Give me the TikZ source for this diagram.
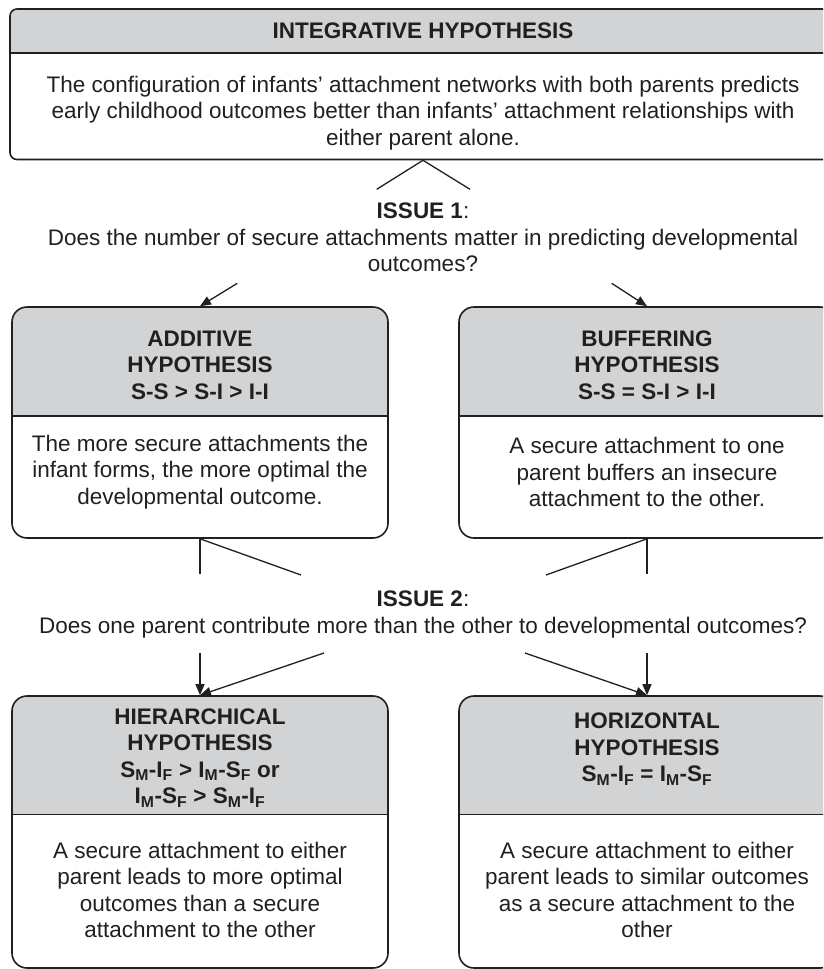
\documentclass[tikz,border=0pt]{standalone}
\usepackage{fontspec}
\setmainfont{Liberation Sans}
\usetikzlibrary{arrows.meta}
\definecolor{inkblack}{HTML}{231F20}
\definecolor{headgray}{HTML}{D1D3D4}
\newcommand{\diagfont}{\fontsize{22.5}{26.5}\selectfont}
\tikzset{
  hypbox/.style 2 args={draw=inkblack, line width=1.6pt, rounded corners=15pt, inner sep=0pt,
    minimum width=376pt, minimum height=#1,
    path picture={
      \fill[headgray, sharp corners] (path picture bounding box.north west) rectangle ([yshift=-#2]path picture bounding box.north east);
      \draw[inkblack, line width=1.6pt, sharp corners] ([yshift=-#2]path picture bounding box.north west) -- ([yshift=-#2]path picture bounding box.north east);
    }},
  headtxt/.style={font=\diagfont\bfseries, align=center, text=inkblack},
  bodytxt/.style={font=\diagfont, align=center, text=inkblack},
  link/.style={draw=inkblack, line width=1.3pt},
  arr/.style={link, -{Triangle[length=11pt, width=9pt]}}
}
\begin{document}
\begin{tikzpicture}[x=1pt, y=-1pt]
\useasboundingbox (0,0) rectangle (823,969);
\clip (0,0) rectangle (823,969);
% boxes
\node[hypbox={150.5pt}{44pt}, minimum width=826pt, rounded corners=7pt] (integ) at (423,84.25) {};
\node[hypbox={231pt}{109pt}] (add) at (200,422.5) {};
\node[hypbox={231pt}{109pt}] (buf) at (647,422.5) {};
\node[hypbox={272pt}{118.5pt}] (hier) at (200,832) {};
\node[hypbox={272pt}{118.5pt}] (horiz) at (647,832) {};
% box texts
\node[headtxt] (integH) at (423,31) {INTEGRATIVE HYPOTHESIS};
\node[bodytxt] (integT) at (423,113) {The configuration of infants’ attachment networks with both parents predicts\\early childhood outcomes better than infants’ attachment relationships with\\either parent alone.};
\node[headtxt] (addH) at (200,365) {ADDITIVE\\HYPOTHESIS\\S-S > S-I > I-I};
\node[bodytxt] (addT) at (200,472) {The more secure attachments the\\infant forms, the more optimal the\\developmental outcome.};
\node[headtxt] (bufH) at (647,365) {BUFFERING\\HYPOTHESIS\\S-S = S-I > I-I};
\node[bodytxt] (bufT) at (647,472) {A secure attachment to one\\parent buffers an insecure\\attachment to the other.};
\node[headtxt] (hierH) at (200,758) {HIERARCHICAL\\HYPOTHESIS\\S\textsubscript{M}-I\textsubscript{F} > I\textsubscript{M}-S\textsubscript{F} or\\I\textsubscript{M}-S\textsubscript{F} > S\textsubscript{M}-I\textsubscript{F}};
\node[bodytxt] (hierT) at (200,890) {A secure attachment to either\\parent leads to more optimal\\outcomes than a secure\\attachment to the other};
\node[headtxt] (horizH) at (647,749) {HORIZONTAL\\HYPOTHESIS\\S\textsubscript{M}-I\textsubscript{F} = I\textsubscript{M}-S\textsubscript{F}};
\node[bodytxt] (horizT) at (647,890) {A secure attachment to either\\parent leads to similar outcomes\\as a secure attachment to the\\other};
% issues
\node[bodytxt] (iss1) at (423,237.5) {\textbf{ISSUE 1}:\\Does the number of secure attachments matter in predicting developmental\\outcomes?};
\node[bodytxt] (iss2) at (423,614.5) {\textbf{ISSUE 2}:\\Does one parent contribute more than the other to developmental outcomes?};
% free ends
\coordinate (t1l) at (376.7,189.3);
\coordinate (t1r) at (470,189.3);
\coordinate (a1l) at (237.3,283.3);
\coordinate (a1r) at (611.7,283.3);
\coordinate (t2a) at (200,574);
\coordinate (t2b) at (301,575);
\coordinate (t2c) at (546,575);
\coordinate (t2d) at (647,574);
\coordinate (a2a) at (200,653);
\coordinate (a2b) at (324,653);
\coordinate (a2c) at (525,653);
\coordinate (a2d) at (647,653);
% connectors
\draw[link] (t1l) -- (integ.south) -- (t1r);
\draw[arr] (a1l) -- (add.north);
\draw[arr] (a1r) -- (buf.north);
\draw[link] (add.south) -- (t2a);
\draw[link] (add.south) -- (t2b);
\draw[link] (buf.south) -- (t2c);
\draw[link] (buf.south) -- (t2d);
\draw[arr] (a2a) -- (hier.north);
\draw[arr] (a2b) -- (hier.north);
\draw[arr] (a2c) -- (horiz.north);
\draw[arr] (a2d) -- (horiz.north);
\end{tikzpicture}
\end{document}
